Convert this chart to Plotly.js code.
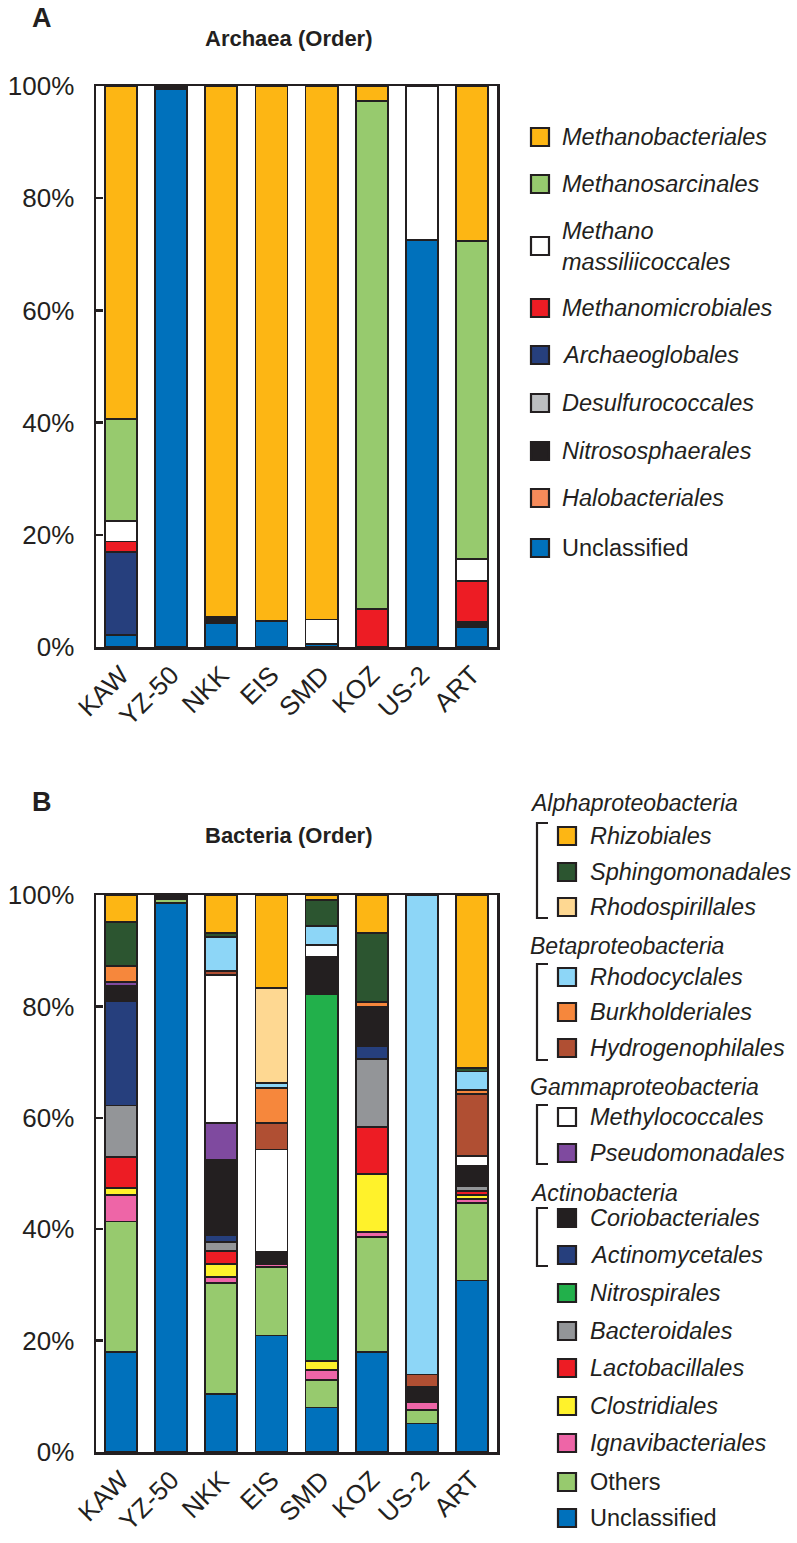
<!DOCTYPE html>
<html>
<head>
<meta charset="utf-8">
<script src="https://cdn.plot.ly/plotly-3.0.1.min.js"></script>
<style>
html,body{margin:0;padding:0;background:#fff;}
#chart{width:797px;height:1543px;}
</style>
</head>
<body>
<div id="chart"></div>
<script>
// ---------- DATA ----------
const categories = ['KAW','YZ-50','NKK','EIS','SMD','KOZ','US-2','ART'];

// Archaea (order), stacked bottom -> top
const archaeaNames = ['Unclassified','Halobacteriales','Nitrososphaerales','Desulfurococcales','Archaeoglobales','Methanomicrobiales','Methanomassiliicoccales','Methanosarcinales','Methanobacteriales'];
const aUnclassified        = [2.1, 99.4, 4.2, 4.7, 0.6, 0,    72.5, 3.6];
const aHalobacteriales     = [0,   0,    0,   0,   0,   0,    0,    0];
const aNitrososphaerales   = [0,   0.6,  1.2, 0,   0,   0,    0,    0.9];
const aDesulfurococcales   = [0,   0,    0,   0,   0,   0,    0,    0];
const aArchaeoglobales     = [14.9,0,    0,   0,   0,   0,    0,    0];
const aMethanomicrobiales  = [1.8, 0,    0,   0,   0,   6.8,  0,    7.3];
const aMethanomassilii     = [3.7, 0,    0,   0,   4.3, 0,    27.5, 3.9];
const aMethanosarcinales   = [18.1,0,    0,   0,   0,   90.5, 0,    56.7];
const aMethanobacteriales  = [59.4,0,    94.6,95.3,95.1,2.7, 0,    27.6];
const archaeaColors = ['#0071bc','#f58a5a','#231f20','#bcbec0','#263f7d','#ed1c24','#ffffff','#97ca6e','#fdb614'];

// Bacteria (order), stacked bottom -> top
const bacteriaNames = ['Unclassified','Others','Ignavibacteriales','Clostridiales','Lactobacillales','Bacteroidales','Nitrospirales','Actinomycetales','Coriobacteriales','Pseudomonadales','Methylococcales','Hydrogenophilales','Burkholderiales','Rhodocyclales','Rhodospirillales','Sphingomonadales','Rhizobiales'];
const bUnclassified      = [17.9, 98.5, 10.4, 20.9, 8.0,  17.9, 5.1,  30.8];
const bOthers            = [23.5, 0.8,  19.9, 12.3, 4.9,  20.7, 2.5,  13.9];
const bIgnavibacteriales = [4.8,  0,    1.1,  0.6,  1.8,  0.9,  1.3,  0.7];
const bClostridiales     = [1.2,  0,    2.4,  0,    1.6,  10.4, 0,    0.8];
const bLactobacillales   = [5.6,  0,    2.3,  0,    0,    8.4,  0,    0.7];
const bBacteroidales     = [9.2,  0,    1.6,  0,    0,    12.3, 0,    0.8];
const bNitrospirales     = [0,    0,    0,    0,    65.9, 0,    0,    0];
const bActinomycetales   = [18.8, 0,    1.2,  0,    0,    2.3,  0,    0];
const bCoriobacteriales  = [2.6,  0.7,  13.5, 2.2,  6.7,  7.1,  2.7,  3.7];
const bPseudomonadales   = [0.8,  0,    6.7,  0,    0,    0,    0,    0];
const bMethylococcales   = [0,    0,    26.5, 18.3, 2.1,  0,    0,    1.7];
const bHydrogenophilales = [0,    0,    0.7,  4.8,  0,    0,    2.3,  11.2];
const bBurkholderiales   = [2.8,  0,    0,    6.2,  0,    0.8,  0,    0.7];
const bRhodocyclales     = [0,    0,    6.1,  1.0,  3.5,  0,    86.1, 3.3];
const bRhodospirillales  = [0,    0,    0,    17.0, 0,    0,    0,    0];
const bSphingomonadales  = [7.9,  0,    0.8,  0,    4.6,  12.4, 0,    0.7];
const bRhizobiales       = [4.9,  0,    6.8,  16.7, 0.9,  6.8,  0,    31.0];
const bacteriaColors = ['#0071bc','#97ca6e','#ee65a7','#fff22b','#ed1c24','#939598','#22b04b','#263f7d','#231f20','#7f4a9f','#ffffff','#b04f33','#f6873c','#8dd6f7','#fed892','#2c5530','#fdb614'];

// ---------- BUILD ----------
const W = 797, H = 1543;
const X = p => p / W;
const Y = p => 1 - p / H;
const FONT = '"Liberation Sans", Arial, sans-serif';
const INK = '#231f20';

const archaeaSeries = [aUnclassified,aHalobacteriales,aNitrososphaerales,aDesulfurococcales,aArchaeoglobales,aMethanomicrobiales,aMethanomassilii,aMethanosarcinales,aMethanobacteriales];
const bacteriaSeries = [bUnclassified,bOthers,bIgnavibacteriales,bClostridiales,bLactobacillales,bBacteroidales,bNitrospirales,bActinomycetales,bCoriobacteriales,bPseudomonadales,bMethylococcales,bHydrogenophilales,bBurkholderiales,bRhodocyclales,bRhodospirillales,bSphingomonadales,bRhizobiales];

const traces = [];
function addTraces(names, series, colors, xa, ya){
  names.forEach((n,i)=>{
    traces.push({
      type:'bar', name:n, x:categories, y:series[i].map(v=>v>0?v:null),
      xaxis:xa, yaxis:ya, width:0.64, showlegend:false,
      marker:{color:colors[i], line:{color:INK, width:1.8}},
      hoverinfo:'name+y'
    });
  });
}
addTraces(archaeaNames, archaeaSeries, archaeaColors, 'x', 'y');
addTraces(bacteriaNames, bacteriaSeries, bacteriaColors, 'x2', 'y2');

const xDom = [X(96), X(497)];
const axisX = {
  domain:xDom, type:'category', range:[-0.5,7.5], showline:true, mirror:true,
  linecolor:INK, linewidth:2.5, ticks:'', tickangle:-45, showgrid:false, zeroline:false,
  tickfont:{family:FONT, size:26, color:INK}, fixedrange:true
};
const axisY = {
  range:[0,100], dtick:20, ticksuffix:'%', showline:true, mirror:true, linecolor:INK,
  linewidth:2.5, ticks:'inside', ticklen:7, tickwidth:2.5, tickcolor:INK, showgrid:false,
  zeroline:false, tickfont:{family:FONT, size:26, color:INK}, ticklabelstandoff:14, fixedrange:true
};

const layout = {
  width:W, height:H, margin:{l:0,r:0,t:0,b:0}, paper_bgcolor:'#fff', plot_bgcolor:'#fff',
  barmode:'stack', bargap:0.36, showlegend:false,
  font:{family:FONT, color:INK},
  xaxis:Object.assign({}, axisX, {anchor:'y'}),
  yaxis:Object.assign({}, axisY, {anchor:'x', domain:[Y(647), Y(86)]}),
  xaxis2:Object.assign({}, axisX, {anchor:'y2'}),
  yaxis2:Object.assign({}, axisY, {anchor:'x2', domain:[Y(1452), Y(895)]}),
  annotations:[], shapes:[]
};

function text(t, px, py, opts){
  layout.annotations.push(Object.assign({
    text:t, x:X(px), y:Y(py), xref:'paper', yref:'paper', xanchor:'left', yanchor:'middle',
    showarrow:false, font:{family:FONT, size:23.5, color:INK}
  }, opts||{}));
}
function square(px, py, color, s){
  s = s || 18;
  layout.shapes.push({type:'rect', xref:'paper', yref:'paper',
    x0:X(px), x1:X(px+s), y0:Y(py+s/2), y1:Y(py-s/2),
    fillcolor:color, line:{color:INK, width:2.2}});
}
function bracket(px, y0, y1){
  const x0 = X(px), x1 = X(px+11);
  layout.shapes.push({type:'path', xref:'paper', yref:'paper',
    path:`M ${x1} ${Y(y0)} L ${x0} ${Y(y0)} L ${x0} ${Y(y1)} L ${x1} ${Y(y1)}`,
    line:{color:INK, width:2.2}});
}

// Panel labels and titles
text('<b>A</b>', 30, 18, {font:{family:FONT, size:27, color:INK}});
text('<b>Archaea (Order)</b>', 203, 39, {font:{family:FONT, size:22, color:INK}});
text('<b>B</b>', 30, 802, {font:{family:FONT, size:27, color:INK}});
text('<b>Bacteria (Order)</b>', 203, 836, {font:{family:FONT, size:22, color:INK}});

// Legend A (top -> bottom)
const legA = [
  {i:8, y:137}, {i:7, y:184}, {i:6, y:246, label:'<i>Methano</i><br><i>massiliicoccales</i>'},
  {i:5, y:308}, {i:4, y:355}, {i:3, y:403}, {i:2, y:451}, {i:1, y:498}, {i:0, y:548}
];
legA.forEach(e=>{
  square(531, e.y, archaeaColors[e.i]);
  const name = archaeaNames[e.i];
  const lab = e.label || (name==='Unclassified' ? name : '<i>'+name+'</i>');
  text(lab, 560, e.y, {align:'left'});
});

// Legend B
const legB = [
  {h:'Alphaproteobacteria', y:803},
  {i:16, y:836}, {i:15, y:872}, {i:14, y:907},
  {h:'Betaproteobacteria', y:946},
  {i:13, y:977}, {i:12, y:1012}, {i:11, y:1048},
  {h:'Gammaproteobacteria', y:1087},
  {i:10, y:1117}, {i:9, y:1153},
  {h:'Actinobacteria', y:1193},
  {i:8, y:1218}, {i:7, y:1255}, {i:6, y:1293}, {i:5, y:1331}, {i:4, y:1368},
  {i:3, y:1406}, {i:2, y:1443}, {i:1, y:1482}, {i:0, y:1518}
];
legB.forEach(e=>{
  if (e.h){ text('<i>'+e.h+'</i>', 528, e.y, {font:{family:FONT, size:23, color:INK}}); return; }
  square(558, e.y, bacteriaColors[e.i]);
  const name = bacteriaNames[e.i];
  const plain = (name==='Unclassified' || name==='Others');
  text(plain ? name : '<i>'+name+'</i>', 588, e.y);
});
bracket(537, 823, 918);
bracket(537, 964, 1060);
bracket(537, 1105, 1164);
bracket(537, 1208, 1266);

Plotly.newPlot('chart', traces, layout, {staticPlot:true, displayModeBar:false});
</script>
</body>
</html>
